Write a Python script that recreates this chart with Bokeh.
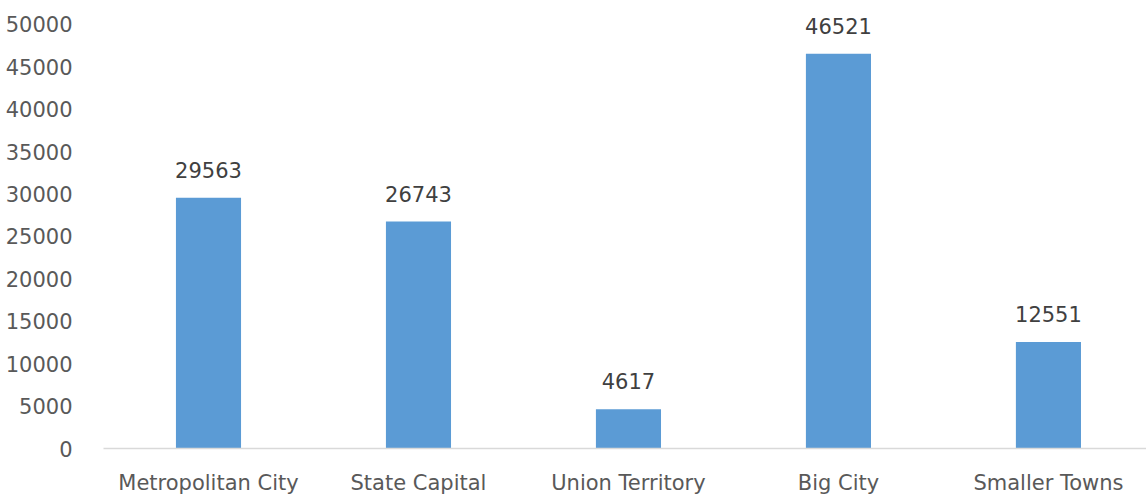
from bokeh.plotting import figure
from bokeh.models import Range1d, FixedTicker, NumeralTickFormatter, ColumnDataSource
from bokeh.embed import file_html
from bokeh.resources import INLINE
from bokeh.core.properties import value

categories = ["Metropolitan City", "State Capital", "Union Territory", "Big City", "Smaller Towns"]
counts = [29563, 26743, 4617, 46521, 12551]
y_ticks = [0, 5000, 10000, 15000, 20000, 25000, 30000, 35000, 40000, 45000, 50000]

xs = list(range(len(categories)))
src = ColumnDataSource(dict(x=xs, top=counts, label=[str(c) for c in counts]))

FONT = "DejaVu Sans"
TXT = "#595959"

p = figure(width=1146, height=497, output_backend="svg", toolbar_location=None,
           x_range=Range1d(-0.5, 4.467), y_range=Range1d(0, 52797),
           min_border_left=103, min_border_right=0, min_border_top=0, min_border_bottom=44)
p.outline_line_color = None
p.grid.visible = False

p.vbar(x="x", top="top", width=0.31, source=src, fill_color="#5B9BD5", line_color=None)
p.text(x="x", y="top", text="label", source=src, text_align="center", text_baseline="middle",
       y_offset=-28, text_font=value(FONT), text_font_size="21px", text_color="#404040")

p.xaxis.ticker = FixedTicker(ticks=xs)
p.xaxis.major_label_overrides = {i: c for i, c in enumerate(categories)}
p.xaxis.axis_line_color = "#d9d9d9"
p.xaxis.axis_line_width = 1.5
p.xaxis.major_tick_line_color = None
p.xaxis.minor_tick_line_color = None
p.xaxis.major_label_text_font = FONT
p.xaxis.major_label_text_font_size = "21px"
p.xaxis.major_label_text_color = TXT
p.xaxis.major_label_standoff = 16

p.yaxis.ticker = FixedTicker(ticks=y_ticks)
p.yaxis.formatter = NumeralTickFormatter(format="0")
p.yaxis.axis_line_color = None
p.yaxis.major_tick_line_color = None
p.yaxis.minor_tick_line_color = None
p.yaxis.major_label_text_font = FONT
p.yaxis.major_label_text_font_size = "21px"
p.yaxis.major_label_text_color = TXT
p.yaxis.major_label_standoff = 25

open("out.html", "w").write(file_html(p, INLINE))
